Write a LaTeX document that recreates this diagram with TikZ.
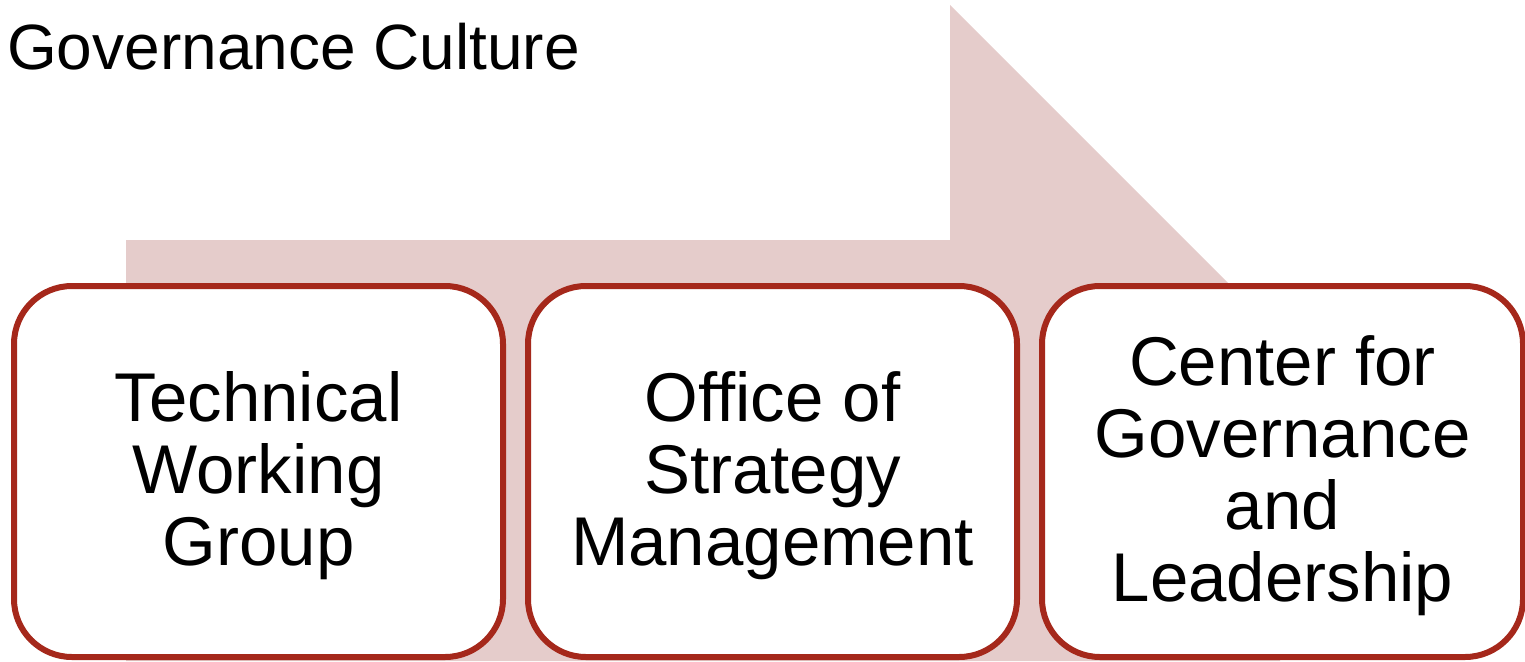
\documentclass[tikz,border=0pt]{standalone}
\usepackage{fontspec}
\setmainfont{Liberation Sans}
\definecolor{boxred}{HTML}{A5281B}
\definecolor{pinkfill}{HTML}{E5CCCB}
\begin{document}
\begin{tikzpicture}[x=1pt,y=-1pt,
  stagebox/.style={draw=boxred, line width=6pt, fill=white, rounded corners=58pt,
    minimum width=489pt, minimum height=371pt, inner sep=0pt, outer sep=0pt},
  stagetext/.style={font=\fontsize{69}{72}\selectfont, align=center, text=black, inner sep=0pt},
  titletext/.style={font=\fontsize{64}{72}\selectfont, text=black, inner sep=0pt, anchor=base west}]
\useasboundingbox (0,0) rectangle (1525,661);
\fill[pinkfill] (126,240) -- (950,240) -- (950,5) -- (1280,335) -- (1280,661) -- (126,661) -- cycle;
\node[stagebox] (b1) at (258.5,471.5) {};
\node[stagebox] (b2) at (772.5,471.5) {};
\node[stagebox, minimum width=481pt] (b3) at (1282.5,471.5) {};
\node[stagetext] (t1) at ([yshift=-4pt]b1.center) {Technical\\Working\\Group};
\node[stagetext] (t2) at ([yshift=-4pt]b2.center) {Office of\\Strategy\\Management};
\node[stagetext] (t3) at ([yshift=-4pt]b3.center) {Center for\\Governance\\and\\Leadership};
\node[titletext] (title) at (7,70) {Governance Culture};
\end{tikzpicture}
\end{document}
